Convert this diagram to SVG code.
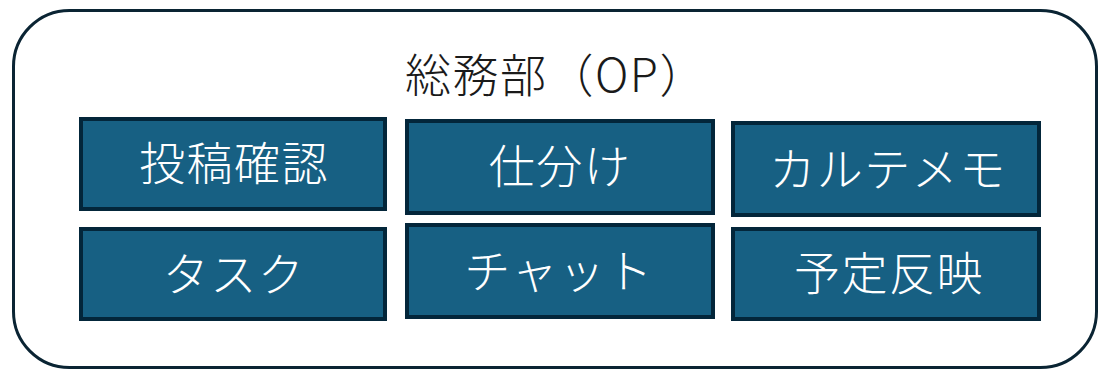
<svg xmlns="http://www.w3.org/2000/svg" width="1099" height="370" viewBox="0 0 1099 370">
<style>
.box{fill:#176083;stroke:#03263A;stroke-width:4}
.lbl{font-family:"Noto Sans CJK JP","Noto Sans",sans-serif;font-size:46px;font-weight:300;fill:#FFFFFF;text-anchor:middle;letter-spacing:1.5px}
.ttl{font-family:"Noto Sans CJK JP","Noto Sans",sans-serif;font-size:46px;font-weight:300;fill:#1A1A1A;text-anchor:middle;letter-spacing:1.5px}
</style>
<rect width="1099" height="370" fill="#FFFFFF"/>
<g id="group-soumu">
<rect x="13.5" y="10.5" width="1083" height="357" rx="56" ry="56" fill="#FFFFFF" stroke="#0A2433" stroke-width="3"/>
<text class="ttl" x="556" y="92">総務部（OP）</text>
</g>
<g id="node-toukou"><rect class="box" x="81" y="119" width="304" height="90"/><text class="lbl" x="234" y="180">投稿確認</text></g>
<g id="node-shiwake"><rect class="box" x="407" y="121" width="306" height="92"/><text class="lbl" x="560" y="183">仕分け</text></g>
<g id="node-karute"><rect class="box" x="733" y="123" width="306" height="92"/><text class="lbl" x="888" y="186">カルテメモ</text></g>
<g id="node-task"><rect class="box" x="81" y="229" width="304" height="90"/><text class="lbl" x="234" y="291">タスク</text></g>
<g id="node-chat"><rect class="box" x="407" y="225" width="306" height="92"/><text class="lbl" x="559" y="288">チャット</text></g>
<g id="node-yotei"><rect class="box" x="733" y="229" width="306" height="90"/><text class="lbl" x="889" y="290">予定反映</text></g>
<g id="connectors"></g>
</svg>
